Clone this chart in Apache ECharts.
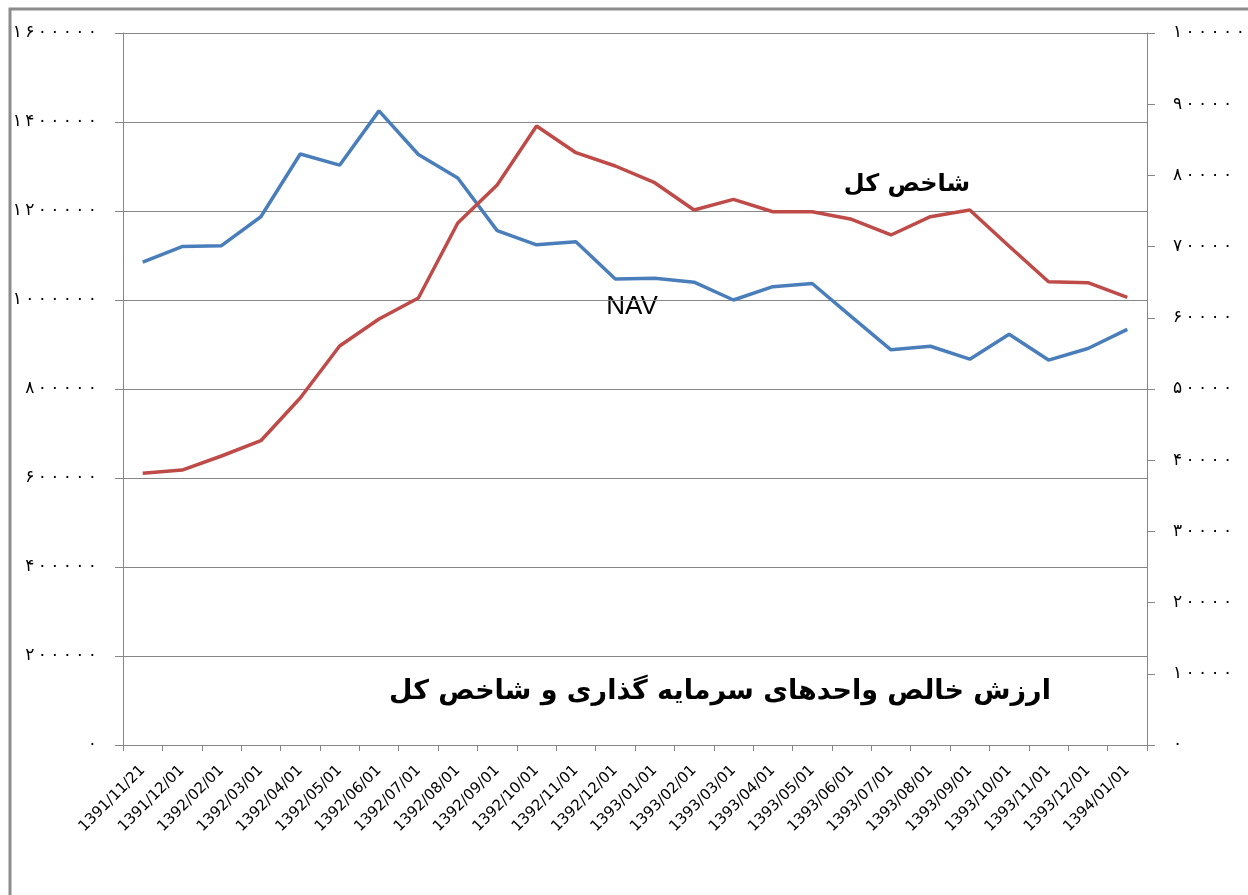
<!DOCTYPE html>
<html>
<head>
<meta charset="utf-8">
<script src="https://cdn.jsdelivr.net/npm/echarts@6/dist/echarts.min.js"></script>
<style>
  html, body { margin: 0; padding: 0; background: #fff; }
  #chart { width: 1248px; height: 895px; }
</style>
</head>
<body>
<div id="chart"></div>
<script>
// تاریخ‌ها
var dates = ['1391/11/21', '1391/12/01', '1392/02/01', '1392/03/01', '1392/04/01', '1392/05/01',
  '1392/06/01', '1392/07/01', '1392/08/01', '1392/09/01', '1392/10/01', '1392/11/01', '1392/12/01',
  '1393/01/01', '1393/02/01', '1393/03/01', '1393/04/01', '1393/05/01', '1393/06/01', '1393/07/01',
  '1393/08/01', '1393/09/01', '1393/10/01', '1393/11/01', '1393/12/01', '1394/01/01']

// NAV (left axis)
var navData = [1085000, 1120000, 1122000, 1187000, 1328000, 1303000, 1425000, 1327000, 1274000,
  1156000, 1124000, 1131000, 1047000, 1049000, 1040000, 1000000, 1030000, 1037000, 962000,
  888000, 896000, 867000, 923000, 865000, 891000, 934000]

// شاخص کل (right axis)
var indexData = [38160, 38620, 40590, 42740, 48740, 56040, 59830, 62780, 73310, 78650, 86940,
  83190, 81320, 78970, 75140, 76640, 74900, 74900, 73830, 71630, 74200, 75140, 70040, 65070,
  64930, 62880]

var faDigits = '۰۱۲۳۴۵۶۷۸۹'
// persian digits, a bit spaced out like the excel export
function toFa (v) {
  return String(v).split('').map(function (d) { return faDigits[d] }).join('\u2009')
}

var myChart = echarts.init(document.getElementById('chart'))
var option = {
  backgroundColor: '#fff',
  animation: false,
  grid: { left: 123, right: 101, top: 33, bottom: 150 },
  xAxis: {
    type: 'category',
    data: dates,
    boundaryGap: true,
    axisLine: { lineStyle: { color: '#868686', width: 1 } },
    axisTick: { show: true, length: 6, alignWithLabel: false, lineStyle: { color: '#868686' } },
    axisLabel: {
      interval: 0,
      rotate: 45,
      margin: 23,
      color: '#000',
      fontFamily: 'DejaVu Sans',
      fontSize: 15
    }
  },
  yAxis: [{
    type: 'value',
    min: 0,
    max: 1600000,
    interval: 200000,
    axisLine: { show: true, lineStyle: { color: '#868686' } },
    axisTick: { show: true, length: 8, lineStyle: { color: '#868686' } },
    splitLine: { show: true, lineStyle: { color: '#868686', width: 1 } },
    axisLabel: {
      margin: 26,
      color: '#000',
      fontFamily: 'DejaVu Sans',
      fontSize: 17,
      formatter: toFa
    }
  }, {
    type: 'value',
    min: 0,
    max: 100000,
    interval: 10000,
    position: 'right',
    axisLine: { show: true, lineStyle: { color: '#868686' } },
    axisTick: { show: true, length: 8, lineStyle: { color: '#868686' } },
    splitLine: { show: false },
    axisLabel: {
      margin: 26,
      color: '#000',
      fontFamily: 'DejaVu Sans',
      fontSize: 17,
      formatter: toFa
    }
  }],
  series: [{
    name: 'NAV',
    type: 'line',
    yAxisIndex: 0,
    data: navData,
    showSymbol: false,
    lineStyle: { color: '#4a7ebb', width: 3.5 },
    itemStyle: { color: '#4a7ebb' }
  }, {
    name: 'شاخص کل',
    type: 'line',
    yAxisIndex: 1,
    data: indexData,
    showSymbol: false,
    lineStyle: { color: '#be4b48', width: 3.5 },
    itemStyle: { color: '#be4b48' }
  }],
  graphic: [{
    type: 'rect',
    shape: { x: 10, y: 9, width: 1400, height: 1000 },
    style: { fill: 'none', stroke: '#8c8c8c', lineWidth: 3 },
    silent: true
  }, {
    type: 'text',
    x: 720, y: 692,
    style: {
      text: 'ارزش خالص واحدهای سرمایه گذاری و شاخص کل',
      font: 'bold 27px "DejaVu Sans"',
      fill: '#000',
      align: 'center',
      verticalAlign: 'middle'
    }
  }, {
    type: 'text',
    x: 907, y: 185,
    style: {
      text: 'شاخص کل',
      font: 'bold 24px "DejaVu Sans"',
      fill: '#000',
      align: 'center',
      verticalAlign: 'middle'
    }
  }, {
    type: 'text',
    x: 632, y: 307,
    style: {
      text: 'NAV',
      font: '26px "Liberation Sans"',
      fill: '#000',
      align: 'center',
      verticalAlign: 'middle'
    }
  }]
}
myChart.setOption(option)
</script>
</body>
</html>
